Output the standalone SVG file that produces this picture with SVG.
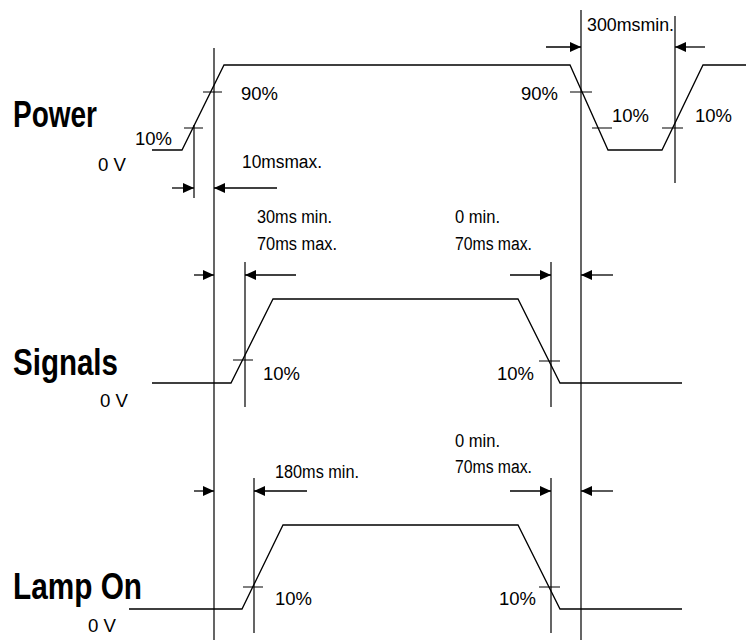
<svg xmlns="http://www.w3.org/2000/svg" width="746" height="640" viewBox="0 0 746 640">
<defs>
<marker id="ah" markerWidth="11" markerHeight="10" refX="11" refY="5" orient="auto" markerUnits="userSpaceOnUse">
<path d="M0,0 L11,5 L0,10 Z" fill="#000"/>
</marker>
<style>
.ln{stroke:#000;stroke-width:1.2;fill:none}
.wv{stroke:#000;stroke-width:1.3;fill:none;stroke-linejoin:miter}
.dim{stroke:#000;stroke-width:1.3;fill:none;marker-end:url(#ah)}
.t{font-family:"Liberation Sans",Arial,sans-serif;font-size:18px;fill:#000}
.big{font-family:"Liberation Sans",Arial,sans-serif;font-size:37px;font-weight:bold;fill:#000}
</style>
</defs>
<rect width="746" height="640" fill="#fff"/>
<g id="guides">
<path class="ln" d="M214,48V640 M581,10V640 M194,125V198 M675,16V183 M245,262V407 M551,262V407 M254,478V633 M551,478V633"/>
</g>
<g id="power">
<text class="big" x="13" y="127" textLength="84" lengthAdjust="spacingAndGlyphs">Power</text>
<path class="wv" d="M152,150 L182,150 L224,65 L570,65 L608,150 L662,150 L703,65 L746,65"/>
<path class="ln" d="M203,92H222 M184,128H203 M570,92H592 M592,128H612 M662,128H683"/>
<text class="t" x="241" y="100" textLength="37" lengthAdjust="spacingAndGlyphs">90%</text>
<text class="t" x="135" y="145" textLength="37" lengthAdjust="spacingAndGlyphs">10%</text>
<text class="t" x="98" y="171" textLength="28" lengthAdjust="spacingAndGlyphs">0 V</text>
<text class="t" x="242" y="168" textLength="80" lengthAdjust="spacingAndGlyphs">10msmax.</text>
<text class="t" x="521" y="100" textLength="37" lengthAdjust="spacingAndGlyphs">90%</text>
<text class="t" x="612" y="122" textLength="37" lengthAdjust="spacingAndGlyphs">10%</text>
<text class="t" x="695" y="122" textLength="37" lengthAdjust="spacingAndGlyphs">10%</text>
<text class="t" x="587" y="31" textLength="87" lengthAdjust="spacingAndGlyphs">300msmin.</text>
</g>
<g id="signals">
<text class="big" x="13" y="375" textLength="105" lengthAdjust="spacingAndGlyphs">Signals</text>
<path class="wv" d="M152,383 L231,383 L273,299 L518,299 L560,383 L682,383"/>
<path class="ln" d="M233,360H253 M539,361H560"/>
<text class="t" x="263" y="380" textLength="37" lengthAdjust="spacingAndGlyphs">10%</text>
<text class="t" x="497" y="380" textLength="37" lengthAdjust="spacingAndGlyphs">10%</text>
<text class="t" x="100" y="407" textLength="28" lengthAdjust="spacingAndGlyphs">0 V</text>
<text class="t" x="257" y="223" textLength="75" lengthAdjust="spacingAndGlyphs">30ms min.</text>
<text class="t" x="257" y="250" textLength="80" lengthAdjust="spacingAndGlyphs">70ms max.</text>
<text class="t" x="455" y="223" textLength="45" lengthAdjust="spacingAndGlyphs">0 min.</text>
<text class="t" x="455" y="250" textLength="77" lengthAdjust="spacingAndGlyphs">70ms max.</text>
</g>
<g id="lamp-on">
<text class="big" x="13" y="599" textLength="129" lengthAdjust="spacingAndGlyphs">Lamp On</text>
<path class="wv" d="M129,609 L242,609 L283,525 L518,525 L560,609 L682,609"/>
<path class="ln" d="M243,587H263 M539,587H560"/>
<text class="t" x="275" y="605" textLength="37" lengthAdjust="spacingAndGlyphs">10%</text>
<text class="t" x="499" y="605" textLength="37" lengthAdjust="spacingAndGlyphs">10%</text>
<text class="t" x="88" y="632" textLength="28" lengthAdjust="spacingAndGlyphs">0 V</text>
<text class="t" x="275" y="478" textLength="84" lengthAdjust="spacingAndGlyphs">180ms min.</text>
<text class="t" x="455" y="447" textLength="45" lengthAdjust="spacingAndGlyphs">0 min.</text>
<text class="t" x="455" y="473" textLength="77" lengthAdjust="spacingAndGlyphs">70ms max.</text>
</g>
<g id="connectors">
<path class="dim" d="M172,188H194"/>
<path class="dim" d="M277,188H214"/>
<path class="dim" d="M546,47H581"/>
<path class="dim" d="M705,47H675"/>
<path class="dim" d="M194,275H214"/>
<path class="dim" d="M296,275H245"/>
<path class="dim" d="M510,275H551"/>
<path class="dim" d="M613,275H581"/>
<path class="dim" d="M194,491H214"/>
<path class="dim" d="M307,491H254"/>
<path class="dim" d="M510,491H551"/>
<path class="dim" d="M613,491H581"/>
</g>
</svg>
